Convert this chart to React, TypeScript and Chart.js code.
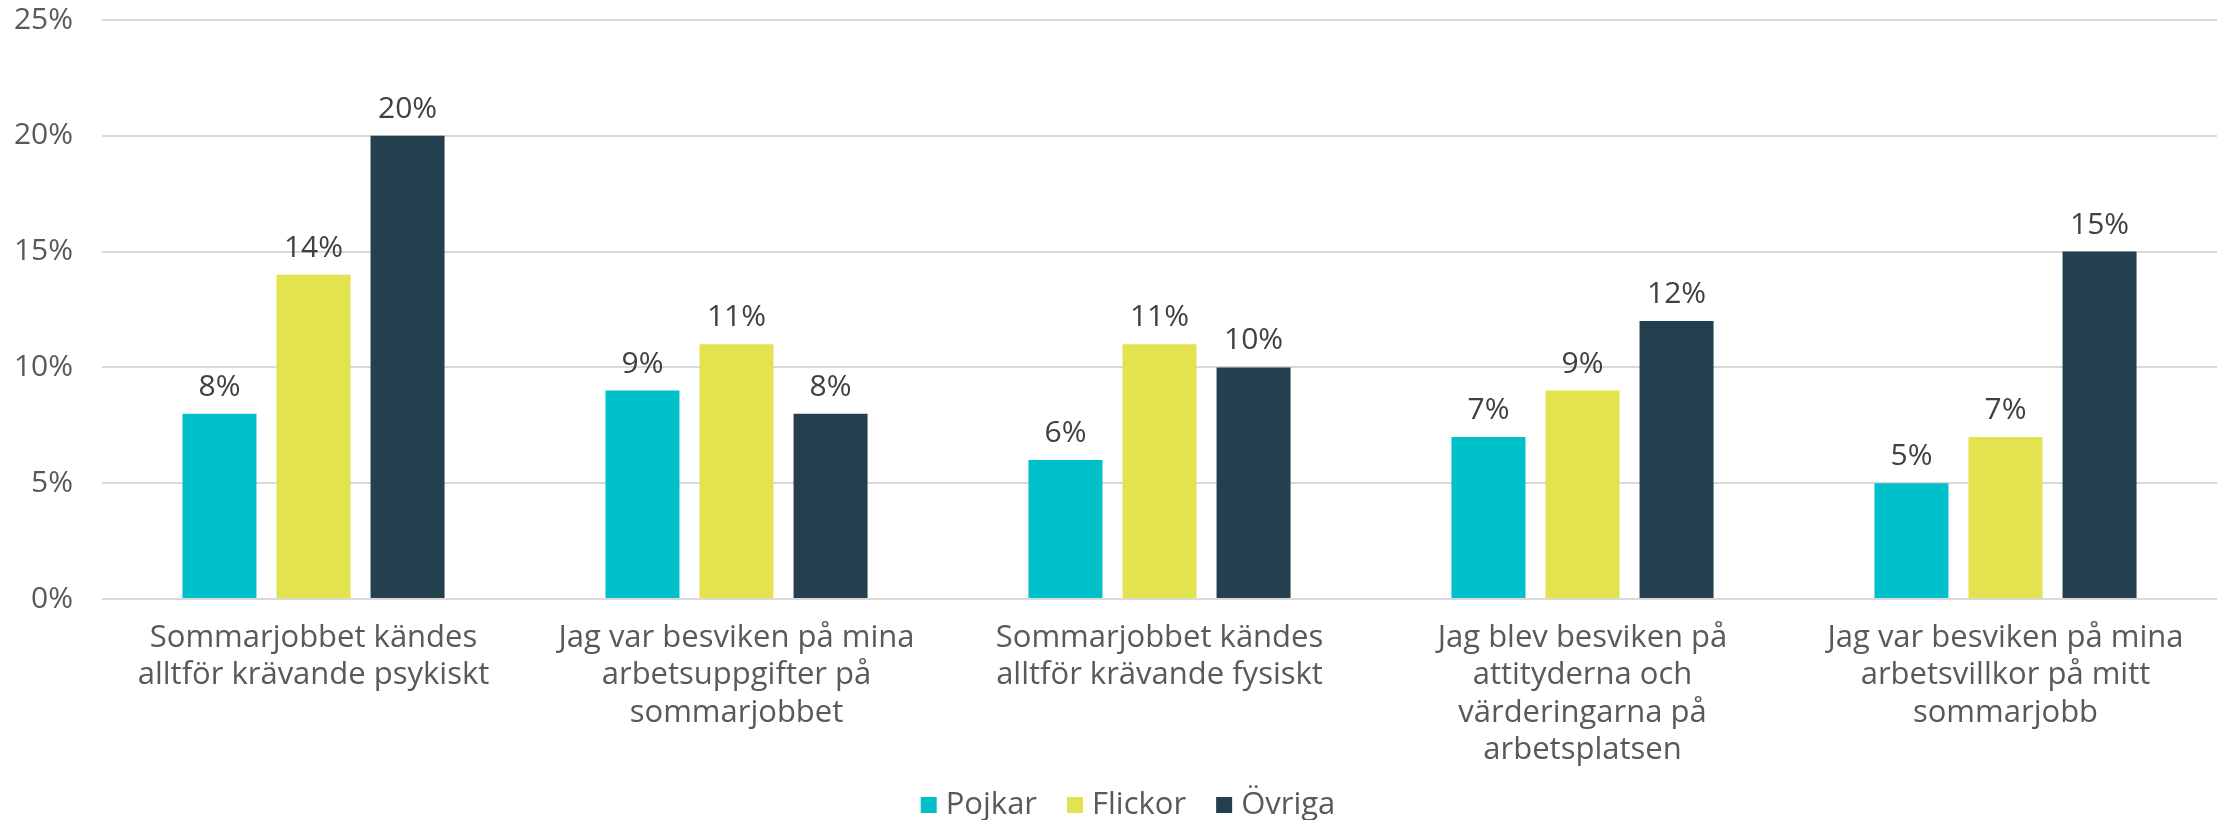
import React, { useEffect, useRef } from "react";
import { Chart, registerables } from "chart.js";

Chart.register(...registerables);

const categories: string[][] = [
  ["Sommarjobbet kändes", "alltför krävande psykiskt"],
  ["Jag var besviken på mina", "arbetsuppgifter på", "sommarjobbet"],
  ["Sommarjobbet kändes", "alltför krävande fysiskt"],
  ["Jag blev besviken på", "attityderna och", "värderingarna på", "arbetsplatsen"],
  ["Jag var besviken på mina", "arbetsvillkor på mitt", "sommarjobb"],
];
const pojkar = [8, 9, 6, 7, 5];
const flickor = [14, 11, 11, 9, 7];
const ovriga = [20, 8, 10, 12, 15];
const seriesNames = ["Pojkar", "Flickor", "Övriga"];
const seriesColors = ["#00C1CA", "#E2E34F", "#243F4D"];

const FONT = "'Open Sans', sans-serif";
const LABEL_SIZE = 31;
const TICK_SIZE = 30;

const valueLabels = {
  id: "valueLabels",
  afterDatasetsDraw(chart: any) {
    const ctx = chart.ctx;
    ctx.save();
    ctx.font = `${TICK_SIZE}px ${FONT}`;
    ctx.fillStyle = "#404040";
    ctx.textAlign = "center";
    ctx.textBaseline = "alphabetic";
    chart.data.datasets.forEach((ds: any, i: number) => {
      const meta = chart.getDatasetMeta(i);
      meta.data.forEach((bar: any, j: number) => {
        ctx.fillText(`${ds.data[j]}%`, bar.x, bar.y - 18);
      });
    });
    ctx.restore();
  },
};

const customLegend = {
  id: "customLegend",
  afterDraw(chart: any) {
    const ctx = chart.ctx;
    ctx.save();
    ctx.font = `${LABEL_SIZE}px ${FONT}`;
    const box = 16;
    const gap = 9;
    const spacing = 30;
    const widths = seriesNames.map((n) => ctx.measureText(n).width);
    const total =
      widths.reduce((a: number, b: number) => a + b, 0) +
      seriesNames.length * (box + gap) +
      spacing * (seriesNames.length - 1);
    let x = 1128 - total / 2;
    const cy = 805;
    seriesNames.forEach((n, i) => {
      ctx.fillStyle = seriesColors[i];
      ctx.fillRect(x, cy - box / 2, box, box);
      ctx.fillStyle = "#595959";
      ctx.textAlign = "left";
      ctx.textBaseline = "middle";
      ctx.fillText(n, x + box + gap, cy);
      x += box + gap + widths[i] + spacing;
    });
    ctx.restore();
  },
};

export default function App() {
  const ref = useRef<HTMLCanvasElement>(null);
  useEffect(() => {
    document.body.style.margin = "0";
    const chart = new Chart(ref.current!, {
      type: "bar",
      data: {
        labels: categories,
        datasets: [pojkar, flickor, ovriga].map((d, i) => ({
          label: seriesNames[i],
          data: d,
          backgroundColor: seriesColors[i],
          categoryPercentage: 0.667,
          barPercentage: 0.787,
        })),
      },
      options: {
        animation: false,
        responsive: false,
        maintainAspectRatio: false,
        layout: { padding: { top: 20, right: 1, left: 0, bottom: 0 } },
        plugins: {
          tooltip: { enabled: false },
          legend: { display: false },
        },
        scales: {
          x: {
            afterFit: (s: any) => {
              s.height = 221;
              s.paddingLeft = 0;
              s.paddingRight = 0;
            },
            grid: { display: false, drawTicks: false },
            border: { display: false },
            ticks: {
              font: { family: FONT, size: LABEL_SIZE, lineHeight: 1.21 },
              color: "#595959",
              padding: 20,
              maxRotation: 0,
              autoSkip: false,
            },
          },
          y: {
            min: 0,
            max: 25,
            afterFit: (s: any) => {
              s.width = 102;
              s.paddingTop = 0;
              s.paddingBottom = 0;
            },
            grid: { color: "#D9D9D9", lineWidth: 2, drawTicks: false },
            border: { display: false },
            ticks: {
              stepSize: 5,
              padding: 29,
              font: { family: FONT, size: TICK_SIZE },
              color: "#595959",
              callback: (v: any) => `${v}%`,
            },
          },
        },
      },
      plugins: [valueLabels, customLegend],
    });
    return () => chart.destroy();
  }, []);
  return (
    <div style={{ position: "fixed", left: 0, top: 0, width: 2218, height: 820 }}>
      <canvas ref={ref} width={2218} height={820} style={{ width: 2218, height: 820 }} />
    </div>
  );
}
